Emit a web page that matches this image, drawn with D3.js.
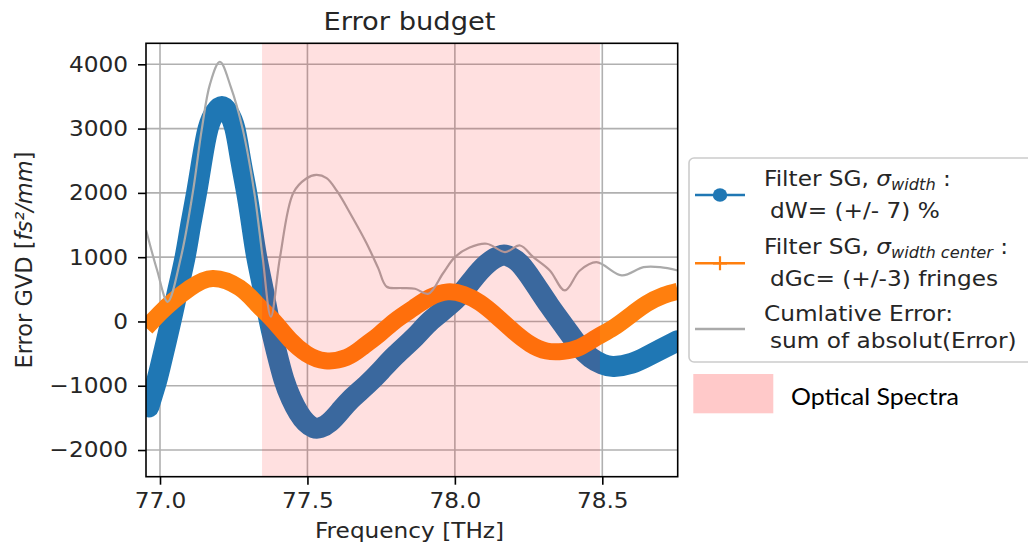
<!DOCTYPE html>
<html><head><meta charset="utf-8">
<script src="https://cdn.jsdelivr.net/npm/d3@7"></script>
<style>
body{margin:0;background:#fff;}
svg{display:block;font-family:"DejaVu Sans",sans-serif;}
</style>
</head><body>
<svg id="c" width="1028" height="551"></svg>
<script>
// ---------------- data ----------------
const freqWidth = [76.962,76.984,77.0,77.037,77.06,77.085,77.104,77.124,77.142,77.163,77.186,77.21,77.232,77.254,77.274,77.294,77.311,77.328,77.35,77.371,77.395,77.42,77.445,77.47,77.495,77.52,77.545,77.575,77.61,77.645,77.70,77.75,77.80,77.865,77.92,78.0,78.06,78.11,78.16,78.19,78.22,78.266,78.32,78.375,78.42,78.46,78.50,78.54,78.60,78.65,78.70,78.756];
const errWidth  = [-1330,-1000,-720,0,480,1000,1500,2000,2500,3000,3250,3345,3250,3000,2500,2000,1500,1000,500,0,-470,-900,-1200,-1420,-1570,-1650,-1650,-1570,-1400,-1220,-990,-760,-520,-240,20,330,650,900,1030,1000,900,620,250,-100,-380,-560,-665,-700,-650,-550,-430,-300];

const freqCenter = [76.953,77.0,77.045,77.102,77.179,77.27,77.328,77.384,77.44,77.497,77.56,77.633,77.69,77.746,77.80,77.86,77.916,77.975,78.03,78.085,78.142,78.198,78.255,78.311,78.368,78.424,78.48,78.537,78.594,78.65,78.707,78.756];
const errCenter  = [-100,130,320,520,670,524,275,15,-280,-503,-610,-560,-390,-190,20,210,375,460,420,290,80,-150,-350,-460,-465,-400,-250,-100,90,275,404,470];

const freqCum = [76.953,76.99,77.026,77.071,77.111,77.142,77.17,77.203,77.24,77.28,77.32,77.348,77.376,77.407,77.452,77.495,77.53,77.565,77.60,77.65,77.70,77.74,77.769,77.82,77.865,77.91,77.96,78.0,78.05,78.108,78.17,78.221,78.266,78.322,78.373,78.424,78.48,78.566,78.64,78.696,78.756];
const errCum  = [1420,800,306,1000,2000,3000,3700,4040,3650,3000,2000,1000,73,1000,2000,2220,2280,2230,2030,1640,1220,830,540,520,508,430,750,1000,1150,1209,1080,1182,1000,793,482,793,922,716,845,845,793];

const spectraBand = [77.346, 78.492];
const xTicks = [77.0, 77.5, 78.0, 78.5];
const yTicks = [-2000, -1000, 0, 1000, 2000, 3000, 4000];

// ---------------- layout ----------------
const L = 146, R = 677.7, T = 43.3, B = 476.7;
const SX = 1.08; // horizontal text stretch of the original picture
const svg = d3.select("#c");
const x = d3.scaleLinear().domain([76.9525, 78.7557]).range([L, R]);
const y = d3.scaleLinear().domain([-2415, 4327]).range([B, T]);

function stretch(sel, sx){
  sel.each(function(){
    const t = d3.select(this);
    const tx = +t.attr("x") || 0, ty = +t.attr("y") || 0;
    t.attr("x", 0).attr("y", 0).attr("transform", `translate(${tx},${ty}) scale(${sx},1)`);
  });
}

svg.append("defs").append("clipPath").attr("id","clip")
  .append("rect").attr("x",L).attr("y",T).attr("width",R-L).attr("height",B-T);

const plot = svg.append("g").attr("clip-path","url(#clip)");

// grid
plot.selectAll(".gx").data(xTicks).join("line")
  .attr("x1",d=>x(d)).attr("x2",d=>x(d)).attr("y1",T).attr("y2",B)
  .attr("stroke","#b0b0b0").attr("stroke-width",1.6);
plot.selectAll(".gy").data(yTicks).join("line")
  .attr("y1",d=>y(d)).attr("y2",d=>y(d)).attr("x1",L).attr("x2",R)
  .attr("stroke","#b0b0b0").attr("stroke-width",1.6);

const mk = (fx, fy) => fx.map((f,i)=>[f, fy[i]]);
const smooth = d3.line().x(d=>x(d[0])).y(d=>y(d[1])).curve(d3.curveNatural);
const cum = d3.line().x(d=>x(d[0])).y(d=>y(d[1])).curve(d3.curveCatmullRom.alpha(0.5));

plot.append("path").datum(mk(freqWidth, errWidth)).attr("d", smooth)
  .attr("fill","none").attr("stroke","#1f77b4").attr("stroke-width",21)
  .attr("stroke-linecap","round").attr("stroke-linejoin","round");
plot.append("path").datum(mk(freqCenter, errCenter)).attr("d", smooth)
  .attr("fill","none").attr("stroke","#ff7f0e").attr("stroke-width",17)
  .attr("stroke-linejoin","round");
plot.append("path").datum(mk(freqCum, errCum)).attr("d", cum)
  .attr("fill","none").attr("stroke","#aaaaaa").attr("stroke-width",2.2)
  .attr("stroke-linejoin","round");

// optical spectra span (on top, translucent)
plot.append("rect")
  .attr("x", x(spectraBand[0])).attr("width", x(spectraBand[1]) - x(spectraBand[0]))
  .attr("y", T).attr("height", B-T)
  .attr("fill","#ff0000").attr("fill-opacity",0.12);

// axes
const xa = svg.append("g").attr("transform",`translate(0,${B})`)
  .call(d3.axisBottom(x).tickValues(xTicks).tickFormat(d3.format(".1f")).tickSize(8).tickPadding(8).tickSizeOuter(0));
const ya = svg.append("g").attr("transform",`translate(${L},0)`)
  .call(d3.axisLeft(y).tickValues(yTicks).tickFormat(d3.format("d")).tickSize(8).tickPadding(10).tickSizeOuter(0));
[xa, ya].forEach(a=>{
  a.select(".domain").remove();
  a.selectAll(".tick line").attr("stroke","#000").attr("stroke-width",1.6);
  a.selectAll(".tick text").attr("fill","#262626").style("font-size","21.5px").style("font-family","'DejaVu Sans'");
});
xa.selectAll(".tick text").each(function(){
  const t = d3.select(this); const ty = +t.attr("y");
  t.attr("y",0).attr("transform",`translate(0,${ty}) scale(${SX},1)`);
});
ya.selectAll(".tick text").each(function(){
  const t = d3.select(this); const tx = +t.attr("x");
  t.attr("x",0).attr("transform",`translate(${tx},0) scale(${SX},1)`);
});

// frame
svg.append("rect").attr("x",L).attr("y",T).attr("width",R-L).attr("height",B-T)
  .attr("fill","none").attr("stroke","#000").attr("stroke-width",1.6);

// title and labels
svg.append("text").attr("x",409.5).attr("y",29.5).attr("text-anchor","middle")
  .style("font-size","25.3px").attr("fill","#262626").text("Error budget").call(stretch, SX);
svg.append("text").attr("x",409.5).attr("y",538).attr("text-anchor","middle")
  .style("font-size","21.5px").attr("fill","#262626").text("Frequency [THz]").call(stretch, SX);
const yl = svg.append("text").attr("transform",`translate(32,${(T+B)/2}) rotate(-90)`)
  .attr("text-anchor","middle").style("font-size","22.5px").attr("fill","#262626");
yl.append("tspan").text("Error GVD [");
yl.append("tspan").style("font-style","italic").text("fs²/mm");
yl.append("tspan").text("]");

// legend
const lg = svg.append("g");
lg.append("rect").attr("x",689).attr("y",158).attr("width",380).attr("height",204)
  .attr("rx",5).attr("fill","#fff").attr("stroke","#cccccc").attr("stroke-width",1.6);

lg.append("line").attr("x1",695).attr("x2",745).attr("y1",195).attr("y2",195)
  .attr("stroke","#1f77b4").attr("stroke-width",2.4);
lg.append("ellipse").attr("cx",720).attr("cy",195).attr("rx",7.2).attr("ry",6.7).attr("fill","#1f77b4");
lg.append("line").attr("x1",695).attr("x2",745).attr("y1",263.3).attr("y2",263.3)
  .attr("stroke","#ff7f0e").attr("stroke-width",2.4);
lg.append("path").attr("d","M720,256.3V270.3M713,263.3H727")
  .attr("stroke","#ff7f0e").attr("stroke-width",2.2);
lg.append("line").attr("x1",695).attr("x2",745).attr("y1",329).attr("y2",329)
  .attr("stroke","#aaaaaa").attr("stroke-width",2.4);

function sigmaLine(yy, sub){
  const t = lg.append("text").attr("x",764).attr("y",yy).style("font-size","21.5px").attr("fill","#262626");
  t.append("tspan").text("Filter SG, ");
  t.append("tspan").style("font-style","italic").text("σ");
  t.append("tspan").style("font-style","italic").style("font-size","15px").attr("dy",4).text(sub);
  t.append("tspan").attr("dy",-4).text(" :");
  t.call(stretch, SX);
}
const plain = (xx, yy, s) => lg.append("text").attr("x",xx).attr("y",yy)
  .style("font-size","21.5px").attr("fill","#262626").text(s).call(stretch, SX);
sigmaLine(186, "width");
plain(770, 218.3, "dW= (+/- 7) %");
sigmaLine(254.3, "width center");
plain(770, 286, "dGc= (+/-3) fringes");
plain(764, 320.7, "Cumlative Error:");
plain(770, 348.3, "sum of absolut(Error)");

// optical spectra annotation
svg.append("rect").attr("x",693.3).attr("y",374).attr("width",80).attr("height",39.3).attr("fill","#ffc9c9");
svg.append("text").attr("x",791).attr("y",405).style("font-family","Lato, 'Open Sans', sans-serif")
  .style("font-size","24px").attr("fill","#000").attr("textLength",168).attr("lengthAdjust","spacingAndGlyphs")
  .text("Optical Spectra");
</script>
</body></html>
